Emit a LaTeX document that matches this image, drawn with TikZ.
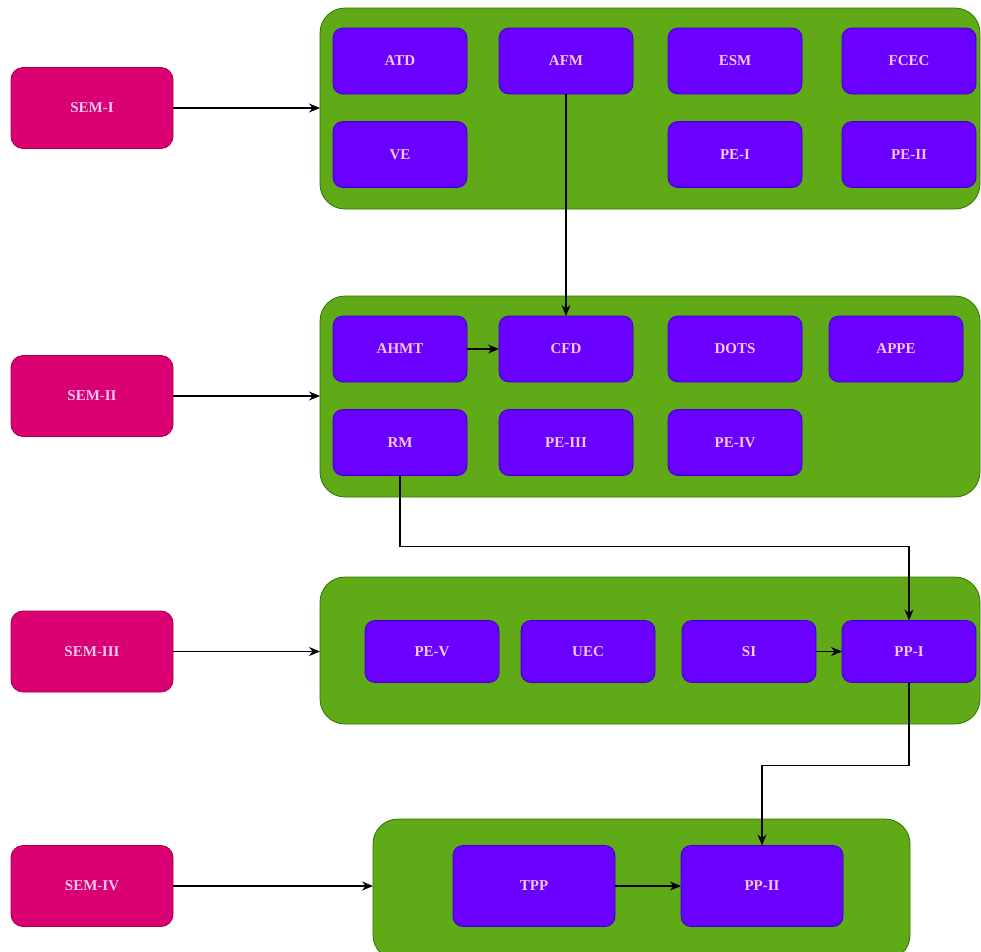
\documentclass[tikz,border=0pt]{standalone}
\usepackage{fontspec}
\setmainfont{Liberation Serif}
\usetikzlibrary{arrows.meta}
\definecolor{semfill}{HTML}{D80073}
\definecolor{semdraw}{HTML}{A50040}
\definecolor{grfill}{HTML}{60A917}
\definecolor{grdraw}{HTML}{2D7600}
\definecolor{pufill}{HTML}{6A00FF}
\definecolor{pudraw}{HTML}{3700CC}
\definecolor{txt}{RGB}{245,200,240}
\tikzset{
  sembox/.style={draw=semdraw, fill=semfill, rounded corners=12pt, line width=0.8pt,
    minimum width=162pt, minimum height=81pt, inner sep=0pt, outer sep=0pt,
    text=txt, font=\fontsize{15}{17}\selectfont\bfseries},
  grbox/.style={draw=grdraw, fill=grfill, rounded corners=25pt, line width=0.8pt,
    inner sep=0pt, outer sep=0pt},
  pubox/.style={draw=pudraw, fill=pufill, rounded corners=10pt, line width=0.8pt,
    minimum width=134pt, minimum height=66pt, inner sep=0pt, outer sep=0pt,
    text=txt, font=\fontsize{15}{17}\selectfont\bfseries},
  arr/.style={draw=black, line width=1.1pt, -{Stealth[length=11pt,width=9pt]}}
}
\begin{document}
\begin{tikzpicture}[x=1pt,y=-1pt]
\useasboundingbox (0,0) rectangle (981,951);
% containers
\node[grbox, minimum width=660pt, minimum height=201pt] (g1) at (650,108.5) {};
\node[grbox, minimum width=660pt, minimum height=201pt] (g2) at (650,396.5) {};
\node[grbox, minimum width=660pt, minimum height=147pt] (g3) at (650,650.5) {};
\node[grbox, minimum width=537pt, minimum height=141pt] (g4) at (641.5,889.5) {};
% semester boxes
\node[sembox] (s1) at (92,108) {SEM-I};
\node[sembox] (s2) at (92,396) {SEM-II};
\node[sembox] (s3) at (92,651.5) {SEM-III};
\node[sembox] (s4) at (92,886) {SEM-IV};
% SEM-I courses
\node[pubox] (atd) at (400,61) {ATD};
\node[pubox] (afm) at (566,61) {AFM};
\node[pubox] (esm) at (735,61) {ESM};
\node[pubox] (fcec) at (909,61) {FCEC};
\node[pubox] (ve) at (400,154.5) {VE};
\node[pubox] (pe1) at (735,154.5) {PE-I};
\node[pubox] (pe2) at (909,154.5) {PE-II};
% SEM-II courses
\node[pubox] (ahmt) at (400,349) {AHMT};
\node[pubox] (cfd) at (566,349) {CFD};
\node[pubox] (dots) at (735,349) {DOTS};
\node[pubox] (appe) at (896,349) {APPE};
\node[pubox] (rm) at (400,442.5) {RM};
\node[pubox] (pe3) at (566,442.5) {PE-III};
\node[pubox] (pe4) at (735,442.5) {PE-IV};
% SEM-III courses
\node[pubox, minimum height=62pt] (pe5) at (432,651.5) {PE-V};
\node[pubox, minimum height=62pt] (uec) at (588,651.5) {UEC};
\node[pubox, minimum height=62pt] (si) at (749,651.5) {SI};
\node[pubox, minimum height=62pt] (pp1) at (909,651.5) {PP-I};
% SEM-IV courses
\node[pubox, minimum width=162pt, minimum height=81pt] (tpp) at (534,886) {TPP};
\node[pubox, minimum width=162pt, minimum height=81pt] (pp2) at (762,886) {PP-II};
% connectors
\draw[arr] (s1) -- (s1 -| g1.west);
\draw[arr] (s2) -- (s2 -| g2.west);
\draw[arr] (s3) -- (s3 -| g3.west);
\draw[arr] (s4) -- (s4 -| g4.west);
\draw[arr] (afm) -- (cfd);
\draw[arr] (ahmt) -- (cfd);
\draw[arr] (rm.south) -- ++(0,71) -| (pp1.north);
\draw[arr] (si) -- (pp1);
\draw[arr] (pp1.south) -- ++(0,83) -| (pp2.north);
\draw[arr] (tpp) -- (pp2);
\end{tikzpicture}
\end{document}
